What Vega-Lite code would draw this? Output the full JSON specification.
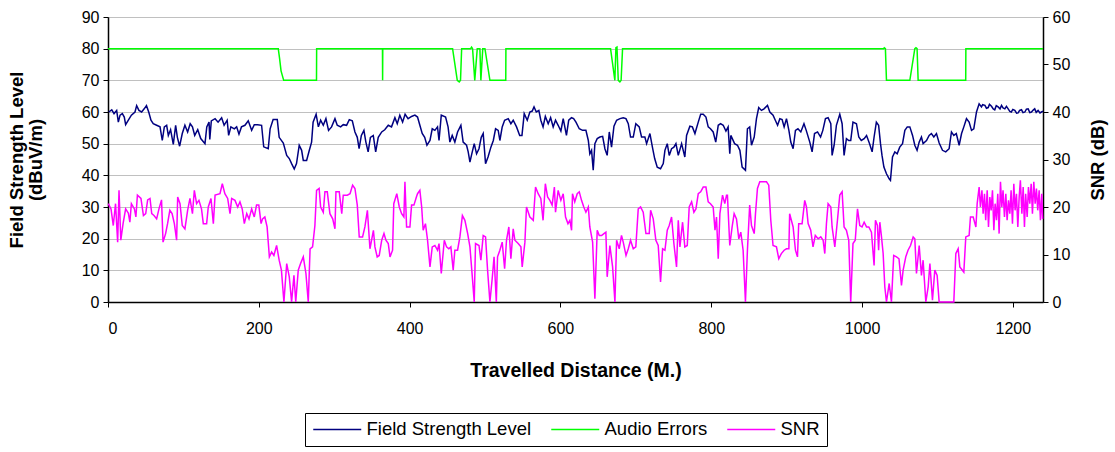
{
  "$schema": "https://vega.github.io/schema/vega-lite/v6.json",
  "width": 935,
  "height": 285,
  "autosize": {"type": "none"},
  "padding": {"left": 108, "top": 17, "right": 72, "bottom": 150},
  "background": "white",
  "config": {
    "font": "Liberation Sans",
    "view": {"stroke": null},
    "axis": {
      "labelFont": "Liberation Sans",
      "labelFontSize": 16,
      "labelColor": "black",
      "labelOverlap": false,
      "domainColor": "black",
      "domainWidth": 1.5,
      "tickColor": "black",
      "tickSize": 5,
      "titleFont": "Liberation Sans",
      "titleFontSize": 18.5,
      "titleFontWeight": "bold",
      "titleColor": "black"
    },
    "line": {"strokeWidth": 1.5}
  },
  "datasets": {
    "fsl": [
      {"d":1,"v":60},{"d":5,"v":60.7},{"d":8,"v":59.5},{"d":11.5,"v":60.5},{"d":13.7,"v":56.8},{"d":16,"v":59},{"d":19,"v":59.5},{"d":21.6,"v":58.4},{"d":23.4,"v":56},{"d":27,"v":57.4},{"d":31,"v":59},{"d":35.8,"v":60},{"d":38,"v":62},{"d":41,"v":60.5},{"d":44.6,"v":60},{"d":48,"v":61},{"d":51,"v":62},{"d":54,"v":60},{"d":57,"v":57.4},{"d":60,"v":56.3},{"d":64.5,"v":55.8},{"d":69,"v":55.3},{"d":72,"v":51},{"d":74.7,"v":55.3},{"d":77.8,"v":55.8},{"d":80,"v":52.6},{"d":83,"v":54.4},{"d":86.6,"v":49.8},{"d":89.7,"v":55.8},{"d":92,"v":52},{"d":95,"v":49.2},{"d":98.5,"v":53.2},{"d":102,"v":55.8},{"d":105.6,"v":53.7},{"d":109,"v":56.3},{"d":112,"v":55.3},{"d":115,"v":52.6},{"d":119,"v":54.4},{"d":123,"v":51.6},{"d":128.6,"v":50},{"d":131,"v":55.3},{"d":134,"v":56.8},{"d":135,"v":51.3},{"d":137,"v":57.2},{"d":142,"v":57.9},{"d":146,"v":56.8},{"d":150.7,"v":58.2},{"d":154,"v":55.8},{"d":158,"v":57.4},{"d":160,"v":52.6},{"d":163,"v":55.3},{"d":167.5,"v":54.7},{"d":170.6,"v":55.3},{"d":173.7,"v":53},{"d":177,"v":55.3},{"d":181.6,"v":55.8},{"d":186,"v":57.2},{"d":190.5,"v":54.2},{"d":194,"v":56},{"d":198.4,"v":56},{"d":203.7,"v":55.8},{"d":206.5,"v":49},{"d":212.5,"v":48.4},{"d":215,"v":54.7},{"d":219,"v":57.6},{"d":224.5,"v":57.6},{"d":227,"v":52},{"d":232.5,"v":50.2},{"d":237,"v":46.3},{"d":240.4,"v":45.3},{"d":243.5,"v":43.7},{"d":247,"v":42},{"d":250,"v":43.7},{"d":253.6,"v":49.5},{"d":256.8,"v":47.9},{"d":259,"v":44.7},{"d":263.4,"v":44.7},{"d":267,"v":47.9},{"d":270,"v":50.5},{"d":272,"v":56.8},{"d":276,"v":59.3},{"d":279,"v":55.3},{"d":282,"v":57.4},{"d":285.5,"v":55.8},{"d":289,"v":57.9},{"d":292.5,"v":54.2},{"d":296.5,"v":55.3},{"d":301,"v":57.9},{"d":304,"v":55.8},{"d":308.5,"v":55.3},{"d":312,"v":56},{"d":316.4,"v":55.8},{"d":320,"v":57.6},{"d":324,"v":57.2},{"d":327.5,"v":53.7},{"d":330.6,"v":52},{"d":333,"v":48.4},{"d":336,"v":52.6},{"d":339.4,"v":54.2},{"d":342,"v":50.5},{"d":345,"v":47.4},{"d":348,"v":52},{"d":351.8,"v":52.6},{"d":355,"v":47.4},{"d":358.4,"v":52},{"d":363,"v":53.7},{"d":367,"v":54.4},{"d":371.7,"v":55.8},{"d":376,"v":55.3},{"d":380.5,"v":58.2},{"d":383.6,"v":56.3},{"d":387,"v":59},{"d":390.7,"v":56.8},{"d":394,"v":59.3},{"d":398,"v":57.9},{"d":402.6,"v":58.6},{"d":407,"v":59},{"d":410.5,"v":58.4},{"d":413.6,"v":55.8},{"d":416.7,"v":53.2},{"d":420,"v":52},{"d":423,"v":49.5},{"d":427,"v":51},{"d":430,"v":54.7},{"d":433.5,"v":54.2},{"d":437,"v":55.3},{"d":439,"v":51},{"d":442,"v":59},{"d":447.7,"v":58.4},{"d":451,"v":55.3},{"d":453.4,"v":50.5},{"d":456.5,"v":52.6},{"d":460,"v":50.5},{"d":463.6,"v":53.7},{"d":468,"v":55.8},{"d":471,"v":50.5},{"d":475.5,"v":49.5},{"d":477.7,"v":47.4},{"d":480,"v":44.2},{"d":482,"v":46.3},{"d":485.7,"v":50},{"d":488.8,"v":46.8},{"d":492,"v":48.4},{"d":495,"v":52},{"d":497.6,"v":53.2},{"d":500.7,"v":43.7},{"d":504,"v":45.8},{"d":507.8,"v":48.9},{"d":511,"v":51},{"d":514,"v":54.7},{"d":517.5,"v":54.2},{"d":519.7,"v":51},{"d":522.8,"v":55.3},{"d":526,"v":57.4},{"d":530.8,"v":57.9},{"d":534.3,"v":56.3},{"d":537.4,"v":57.4},{"d":541.8,"v":55.3},{"d":546,"v":52.6},{"d":549,"v":52.6},{"d":552,"v":59.5},{"d":556,"v":57.4},{"d":559.5,"v":60},{"d":562.6,"v":60.3},{"d":565,"v":61.6},{"d":568,"v":60},{"d":571.4,"v":60.5},{"d":574,"v":57.4},{"d":577,"v":55.3},{"d":580,"v":58.6},{"d":583.8,"v":56.3},{"d":587,"v":58.2},{"d":590.4,"v":55.3},{"d":593.5,"v":57.4},{"d":597,"v":55.8},{"d":600.6,"v":54},{"d":603.7,"v":57.9},{"d":608,"v":52.6},{"d":611,"v":57.4},{"d":614.7,"v":58.2},{"d":617.5,"v":57.9},{"d":620.6,"v":56.8},{"d":625,"v":54.7},{"d":629.4,"v":54.2},{"d":633.8,"v":54.2},{"d":637,"v":51},{"d":639,"v":46.8},{"d":641.3,"v":47.9},{"d":643.5,"v":41.6},{"d":645.7,"v":50},{"d":648.8,"v":51.6},{"d":652.4,"v":52.1},{"d":656,"v":52.3},{"d":659,"v":48.4},{"d":662,"v":46.3},{"d":664.8,"v":53.7},{"d":667.8,"v":48.9},{"d":671,"v":55.5},{"d":674.5,"v":57.4},{"d":679,"v":57.9},{"d":683.3,"v":58.2},{"d":686.9,"v":57.9},{"d":690,"v":56.3},{"d":693,"v":52.1},{"d":696.6,"v":52.1},{"d":700,"v":56.3},{"d":704.5,"v":55.3},{"d":707.6,"v":52.1},{"d":712,"v":52.1},{"d":714.3,"v":50},{"d":718.7,"v":53.2},{"d":722,"v":48.9},{"d":725,"v":45.3},{"d":728.4,"v":42.6},{"d":732.8,"v":42.1},{"d":736.4,"v":43.7},{"d":738.6,"v":47.9},{"d":741.7,"v":50},{"d":744.3,"v":46.3},{"d":747.4,"v":48.4},{"d":750.5,"v":48.9},{"d":753.2,"v":50},{"d":756.3,"v":46.3},{"d":760.7,"v":50},{"d":765,"v":45.8},{"d":767.3,"v":52.6},{"d":771.7,"v":55.5},{"d":775,"v":55.3},{"d":778.4,"v":53.2},{"d":782.8,"v":56.8},{"d":786,"v":59.3},{"d":789.4,"v":59.3},{"d":793,"v":58.4},{"d":796,"v":55.3},{"d":799,"v":54.7},{"d":802.6,"v":53.7},{"d":806,"v":50.5},{"d":809.3,"v":55.8},{"d":812.4,"v":56.3},{"d":815.9,"v":55.8},{"d":819.5,"v":54},{"d":822.4,"v":55.3},{"d":824.6,"v":46.8},{"d":826,"v":52.6},{"d":831,"v":50},{"d":834.8,"v":49.5},{"d":838,"v":47.9},{"d":841,"v":42.6},{"d":845.4,"v":41.6},{"d":848,"v":54.7},{"d":851,"v":55.3},{"d":853.4,"v":49.5},{"d":857,"v":52.1},{"d":860,"v":57.9},{"d":863,"v":61.4},{"d":866.6,"v":60.5},{"d":870,"v":61},{"d":874.6,"v":62.1},{"d":877.7,"v":60},{"d":882,"v":59},{"d":885,"v":57.4},{"d":888,"v":55.8},{"d":891,"v":57.9},{"d":894,"v":57.6},{"d":896.7,"v":55.3},{"d":899.8,"v":57.9},{"d":903,"v":54.2},{"d":905.5,"v":50.5},{"d":908.6,"v":48.4},{"d":911.7,"v":54.2},{"d":915,"v":54.7},{"d":918.8,"v":53.7},{"d":923,"v":56.3},{"d":926,"v":54.2},{"d":930.7,"v":50.5},{"d":933.8,"v":47.4},{"d":937,"v":53.2},{"d":941,"v":53.7},{"d":945,"v":52.1},{"d":948,"v":54.2},{"d":951.5,"v":57.9},{"d":955,"v":58.2},{"d":958.6,"v":56.3},{"d":960.3,"v":46.3},{"d":963,"v":49.5},{"d":966,"v":55.8},{"d":970.5,"v":59.3},{"d":973.6,"v":56.3},{"d":976.2,"v":46.3},{"d":979.3,"v":51.6},{"d":982.4,"v":51},{"d":985,"v":51},{"d":988,"v":56.8},{"d":992.6,"v":56.3},{"d":995.7,"v":52.1},{"d":999,"v":51},{"d":1002.8,"v":51.6},{"d":1006,"v":52.6},{"d":1010,"v":50},{"d":1013.4,"v":47.4},{"d":1016,"v":52.1},{"d":1019,"v":56.8},{"d":1022,"v":55.8},{"d":1024.5,"v":50},{"d":1026.5,"v":46.3},{"d":1029,"v":42.6},{"d":1032.4,"v":40.5},{"d":1036,"v":38.9},{"d":1037.7,"v":38.4},{"d":1040.4,"v":45.8},{"d":1043.5,"v":47.4},{"d":1046.6,"v":46.8},{"d":1050,"v":48.9},{"d":1053.7,"v":50},{"d":1056.8,"v":54.2},{"d":1060,"v":55.3},{"d":1063.4,"v":55.3},{"d":1067,"v":52.6},{"d":1070,"v":49.5},{"d":1073,"v":47.9},{"d":1075.8,"v":50.5},{"d":1078.8,"v":52.1},{"d":1081,"v":50},{"d":1085.5,"v":51},{"d":1089,"v":52.6},{"d":1092,"v":53.2},{"d":1095.2,"v":52.1},{"d":1098.7,"v":53.2},{"d":1102.3,"v":50.2},{"d":1106.7,"v":47.9},{"d":1111,"v":47.4},{"d":1115.5,"v":48.4},{"d":1118.6,"v":53.7},{"d":1121.7,"v":52.6},{"d":1125,"v":53.2},{"d":1128.8,"v":49.5},{"d":1132,"v":53.2},{"d":1135,"v":55.3},{"d":1138.5,"v":57.9},{"d":1142,"v":56.8},{"d":1145.2,"v":54.2},{"d":1148.2,"v":54.7},{"d":1151.8,"v":60},{"d":1155.3,"v":62.6},{"d":1158.4,"v":61.6},{"d":1160,"v":62.3},{"d":1163,"v":62.1},{"d":1165,"v":61.2},{"d":1167.3,"v":61.4},{"d":1169,"v":62.4},{"d":1171.7,"v":61.8},{"d":1174,"v":61},{"d":1176,"v":60.7},{"d":1178,"v":62},{"d":1180.5,"v":61.6},{"d":1183,"v":61},{"d":1185,"v":62.1},{"d":1187,"v":61.3},{"d":1189.4,"v":61},{"d":1191.5,"v":61.8},{"d":1193.8,"v":61},{"d":1196,"v":60.2},{"d":1198,"v":60},{"d":1200,"v":60.8},{"d":1202.6,"v":60.5},{"d":1205,"v":59.6},{"d":1207,"v":59.7},{"d":1209,"v":60.5},{"d":1211.5,"v":60.7},{"d":1213.5,"v":59.8},{"d":1216,"v":60},{"d":1218,"v":60.9},{"d":1220.3,"v":61},{"d":1222.5,"v":59.8},{"d":1224.7,"v":60},{"d":1227,"v":60.6},{"d":1229,"v":61},{"d":1231,"v":59.9},{"d":1233.5,"v":60.5},{"d":1236,"v":59.7},{"d":1238,"v":60},{"d":1240,"v":60.3}
    ],
    "audio": [
      {"d":0,"v":80},{"d":225.8,"v":80},{"d":227.5,"v":77},{"d":229.5,"v":73},{"d":233,"v":70},{"d":276.5,"v":70},{"d":276.7,"v":80},{"d":364,"v":80},{"d":364.2,"v":70},{"d":364.4,"v":80},{"d":457,"v":80},{"d":463.2,"v":70},{"d":465.8,"v":69.5},{"d":467.5,"v":70},{"d":469,"v":80},{"d":480.9,"v":80},{"d":482.2,"v":80.5},{"d":483.5,"v":80},{"d":486.4,"v":70},{"d":489.7,"v":80},{"d":493.2,"v":80},{"d":494.5,"v":70},{"d":497,"v":80},{"d":499.9,"v":80},{"d":506.5,"v":70},{"d":527.5,"v":70},{"d":527.7,"v":80},{"d":666.5,"v":80},{"d":672.2,"v":70},{"d":673.6,"v":80.3},{"d":675,"v":80.5},{"d":676.7,"v":70},{"d":678.9,"v":69.5},{"d":680.5,"v":70},{"d":682.4,"v":80},{"d":1028.5,"v":80},{"d":1029.5,"v":80.3},{"d":1031,"v":80},{"d":1032.4,"v":70},{"d":1063.4,"v":70},{"d":1070,"v":80},{"d":1071.5,"v":80.3},{"d":1073,"v":80},{"d":1074.4,"v":70},{"d":1137.5,"v":70},{"d":1137.7,"v":80},{"d":1240,"v":80}
    ],
    "snr": [
      {"d":0.4,"v":20.7},{"d":4,"v":19.6},{"d":7,"v":16.1},{"d":10,"v":20.7},{"d":12.8,"v":12.6},{"d":14.6,"v":23.5},{"d":17,"v":13},{"d":20,"v":16.5},{"d":23.4,"v":19.6},{"d":27,"v":18.7},{"d":29,"v":16.8},{"d":31,"v":20.7},{"d":35,"v":19.6},{"d":37,"v":17.9},{"d":39,"v":22.5},{"d":43.7,"v":21.8},{"d":47,"v":18.2},{"d":50,"v":18.6},{"d":52.6,"v":21.5},{"d":55.7,"v":21.8},{"d":58,"v":18.6},{"d":61,"v":18.2},{"d":64.5,"v":17.5},{"d":67.6,"v":19.6},{"d":71,"v":21.5},{"d":73,"v":12.6},{"d":76.4,"v":14.4},{"d":79,"v":16.5},{"d":82,"v":19.3},{"d":85,"v":18.6},{"d":88,"v":16.5},{"d":91,"v":13},{"d":92.4,"v":22.1},{"d":95.5,"v":20.7},{"d":98.5,"v":16.1},{"d":102,"v":15.4},{"d":105.6,"v":19.3},{"d":108.7,"v":21.8},{"d":112,"v":18.6},{"d":114.5,"v":23.5},{"d":117.5,"v":20.7},{"d":120.6,"v":21.4},{"d":124,"v":19.6},{"d":126.4,"v":16.5},{"d":130.8,"v":16.5},{"d":133,"v":20},{"d":136.6,"v":21.8},{"d":139.7,"v":16.5},{"d":142,"v":22.5},{"d":148.5,"v":22.8},{"d":151.6,"v":24.9},{"d":155,"v":22.8},{"d":158.7,"v":21.8},{"d":161.8,"v":18.6},{"d":164,"v":21.8},{"d":168.4,"v":21.4},{"d":172,"v":20},{"d":175,"v":21.1},{"d":178,"v":19.6},{"d":180.8,"v":16.5},{"d":184,"v":18.6},{"d":187,"v":17.5},{"d":190.5,"v":19.6},{"d":194,"v":17.9},{"d":197,"v":20.4},{"d":200,"v":20.4},{"d":203,"v":16.5},{"d":205,"v":17.5},{"d":208,"v":17.9},{"d":211,"v":15.8},{"d":214,"v":9.5},{"d":217,"v":10.5},{"d":220,"v":9.8},{"d":223.6,"v":11.9},{"d":227,"v":8.8},{"d":230,"v":6.7},{"d":233.3,"v":0},{"d":237,"v":8.1},{"d":240.4,"v":5.3},{"d":243.5,"v":0},{"d":246.6,"v":5.6},{"d":249,"v":0},{"d":252.3,"v":6.7},{"d":255.4,"v":8.1},{"d":259,"v":9.5},{"d":262.5,"v":6},{"d":265.6,"v":0},{"d":268,"v":11.2},{"d":271.3,"v":11.6},{"d":274.4,"v":16.1},{"d":276.6,"v":23.5},{"d":280,"v":23.9},{"d":282,"v":20},{"d":285.5,"v":18.9},{"d":287.7,"v":23.2},{"d":290.8,"v":23.2},{"d":294.3,"v":18.6},{"d":298,"v":17.5},{"d":301,"v":15.4},{"d":302.3,"v":23.2},{"d":306.7,"v":23.2},{"d":310,"v":18.6},{"d":312,"v":22.5},{"d":317.3,"v":22.5},{"d":321,"v":22.8},{"d":324.4,"v":24.6},{"d":327.5,"v":23.9},{"d":330.6,"v":20.4},{"d":333.2,"v":13.7},{"d":337.6,"v":13.7},{"d":340.7,"v":15.8},{"d":344,"v":19.3},{"d":347.4,"v":11.2},{"d":352,"v":15.1},{"d":354,"v":11.6},{"d":357,"v":9.5},{"d":359.7,"v":9.8},{"d":363,"v":13},{"d":366,"v":14.4},{"d":368.6,"v":13},{"d":371.7,"v":12.3},{"d":374,"v":9.5},{"d":377.4,"v":10.9},{"d":379,"v":20.7},{"d":383,"v":22.8},{"d":386.3,"v":20},{"d":389.4,"v":18.6},{"d":392.4,"v":17.9},{"d":393.8,"v":25.3},{"d":396,"v":15.8},{"d":400.4,"v":15.8},{"d":402.6,"v":20.4},{"d":405.7,"v":20.4},{"d":409,"v":22.1},{"d":410.5,"v":22.8},{"d":413.6,"v":23.5},{"d":416,"v":20},{"d":418,"v":15.1},{"d":421,"v":16.5},{"d":423.8,"v":13},{"d":427,"v":7.4},{"d":430,"v":11.6},{"d":433.5,"v":11.9},{"d":437,"v":10.9},{"d":439,"v":12.3},{"d":442,"v":6},{"d":446,"v":13},{"d":449,"v":11.6},{"d":452,"v":11.2},{"d":454.7,"v":11.6},{"d":457.8,"v":6.7},{"d":460,"v":10.9},{"d":463.6,"v":10.9},{"d":466.7,"v":13.7},{"d":470,"v":18.2},{"d":473.3,"v":17.2},{"d":477,"v":14.4},{"d":480,"v":11.6},{"d":483,"v":5.6},{"d":485.7,"v":0},{"d":487.4,"v":12.3},{"d":492,"v":11.9},{"d":494.5,"v":8.8},{"d":497.6,"v":14},{"d":500.7,"v":13.7},{"d":503.4,"v":6.7},{"d":506.5,"v":0},{"d":509.5,"v":4.9},{"d":512,"v":9.5},{"d":515,"v":0},{"d":516.6,"v":9.5},{"d":519.7,"v":10.9},{"d":522.8,"v":12.6},{"d":526,"v":7},{"d":528.5,"v":13},{"d":531.6,"v":15.8},{"d":534.3,"v":9.1},{"d":537.4,"v":15.4},{"d":539.6,"v":13},{"d":544,"v":12.3},{"d":547.6,"v":11.6},{"d":549.3,"v":7.4},{"d":552.9,"v":12.6},{"d":555,"v":20},{"d":559.5,"v":17.9},{"d":564,"v":17.2},{"d":567,"v":24.2},{"d":570.5,"v":22.8},{"d":574,"v":21.8},{"d":577,"v":17.2},{"d":580,"v":24.9},{"d":583,"v":22.1},{"d":586,"v":21.4},{"d":589,"v":20.4},{"d":592,"v":24.2},{"d":593.5,"v":18.9},{"d":597,"v":23.5},{"d":600.6,"v":21.4},{"d":603.7,"v":22.8},{"d":606.8,"v":17.9},{"d":610,"v":16.5},{"d":612.6,"v":17.2},{"d":614.8,"v":15.1},{"d":616,"v":22.8},{"d":619,"v":21.1},{"d":622.3,"v":22.8},{"d":625,"v":23.2},{"d":628,"v":21.4},{"d":631,"v":20},{"d":633.8,"v":18.9},{"d":637,"v":20},{"d":639,"v":15.8},{"d":642.7,"v":12.6},{"d":645.7,"v":0.7},{"d":648.8,"v":15.1},{"d":651.5,"v":14},{"d":654.6,"v":14},{"d":657.7,"v":14.4},{"d":660.3,"v":14.7},{"d":662,"v":5.3},{"d":665.6,"v":11.9},{"d":669.2,"v":7.4},{"d":672.3,"v":0},{"d":674.5,"v":13},{"d":678,"v":11.2},{"d":681,"v":14},{"d":683.3,"v":12.6},{"d":687,"v":9.8},{"d":690,"v":11.2},{"d":693,"v":13},{"d":696.6,"v":11.2},{"d":700,"v":11.6},{"d":703.2,"v":19.6},{"d":706.3,"v":20},{"d":709.8,"v":18.9},{"d":713.4,"v":14.4},{"d":717.8,"v":14.4},{"d":719.6,"v":19.3},{"d":723.1,"v":17.5},{"d":726.6,"v":13},{"d":729.7,"v":11.9},{"d":732.8,"v":4.2},{"d":735.5,"v":11.2},{"d":738.6,"v":10.9},{"d":741.7,"v":15.1},{"d":744.3,"v":16.1},{"d":747.4,"v":17.9},{"d":750.5,"v":12.3},{"d":754,"v":7.4},{"d":756.3,"v":17.2},{"d":758.5,"v":11.6},{"d":762,"v":16.8},{"d":765,"v":11.6},{"d":768.2,"v":11.9},{"d":770.8,"v":20},{"d":774,"v":21.1},{"d":777,"v":18.9},{"d":779.7,"v":19.6},{"d":782.8,"v":22.8},{"d":786,"v":23.2},{"d":789.4,"v":24.2},{"d":793,"v":24.2},{"d":796,"v":21.1},{"d":799,"v":20.7},{"d":802.6,"v":20},{"d":805,"v":15.1},{"d":807,"v":17.9},{"d":809.3,"v":9.1},{"d":811.5,"v":18.6},{"d":815,"v":22.5},{"d":818,"v":20.7},{"d":820.3,"v":22.5},{"d":821.5,"v":22.5},{"d":824.6,"v":11.9},{"d":827.7,"v":15.8},{"d":830.4,"v":18.6},{"d":833.5,"v":17.5},{"d":836.6,"v":13.3},{"d":839.2,"v":14.7},{"d":842.3,"v":10.9},{"d":845.4,"v":0},{"d":848,"v":10.9},{"d":851,"v":20.4},{"d":853.4,"v":16.1},{"d":857,"v":14.4},{"d":858.7,"v":18.6},{"d":861.3,"v":23.9},{"d":864.4,"v":25.3},{"d":868.8,"v":25.3},{"d":873.3,"v":25.3},{"d":876.3,"v":24.6},{"d":879,"v":17.2},{"d":882,"v":11.9},{"d":886.5,"v":11.6},{"d":889.6,"v":9.1},{"d":893,"v":10.2},{"d":896.7,"v":10.9},{"d":899.8,"v":11.2},{"d":903,"v":11.2},{"d":904,"v":18.6},{"d":908.6,"v":15.8},{"d":911.7,"v":10.9},{"d":914.4,"v":9.5},{"d":916,"v":16.5},{"d":920.5,"v":16.5},{"d":924,"v":21.4},{"d":926.3,"v":20},{"d":928.5,"v":16.5},{"d":932,"v":15.1},{"d":935,"v":11.6},{"d":938,"v":14},{"d":941.8,"v":13.3},{"d":945.3,"v":13.7},{"d":948.4,"v":13},{"d":950.6,"v":10.2},{"d":952.8,"v":16.5},{"d":955,"v":20.7},{"d":958.6,"v":20},{"d":960.3,"v":15.8},{"d":963.9,"v":11.6},{"d":967.4,"v":17.2},{"d":970.5,"v":22.5},{"d":973.6,"v":23.2},{"d":976.2,"v":15.8},{"d":979.3,"v":15.1},{"d":982.4,"v":13},{"d":985,"v":0},{"d":988,"v":12.3},{"d":991,"v":13},{"d":994,"v":19.6},{"d":997,"v":16.1},{"d":1000,"v":15.8},{"d":1002.8,"v":16.8},{"d":1006,"v":15.8},{"d":1009,"v":15.8},{"d":1012.5,"v":14.7},{"d":1016,"v":7.7},{"d":1017.8,"v":17.2},{"d":1020.4,"v":16.1},{"d":1022,"v":10.9},{"d":1023.6,"v":16.8},{"d":1025.8,"v":13.7},{"d":1028,"v":10.2},{"d":1030.2,"v":3.2},{"d":1032.4,"v":0},{"d":1036,"v":3.9},{"d":1039,"v":0},{"d":1042,"v":9.8},{"d":1045.7,"v":9.5},{"d":1049,"v":9.1},{"d":1052.3,"v":3.5},{"d":1054.5,"v":6.7},{"d":1058,"v":9.5},{"d":1061,"v":10.9},{"d":1064.3,"v":11.9},{"d":1067.8,"v":13.7},{"d":1070,"v":13.3},{"d":1072.2,"v":6},{"d":1075.8,"v":11.9},{"d":1078.8,"v":5.6},{"d":1081,"v":8.8},{"d":1084.6,"v":0},{"d":1087.7,"v":3.2},{"d":1090,"v":8.1},{"d":1093.4,"v":0.4},{"d":1096.5,"v":6.7},{"d":1099.6,"v":5.6},{"d":1102.3,"v":0},{"d":1112,"v":0},{"d":1121.7,"v":0},{"d":1124.4,"v":10.2},{"d":1127.5,"v":11.2},{"d":1129.7,"v":7.4},{"d":1135,"v":6.3},{"d":1137.6,"v":13.7},{"d":1142,"v":14},{"d":1143.8,"v":17.9},{"d":1147.4,"v":17.9},{"d":1151,"v":15.8},{"d":1152.7,"v":20.7},{"d":1155.3,"v":24.2},{"d":1157,"v":20},{"d":1159,"v":23.5},{"d":1160.6,"v":18.6},{"d":1162.4,"v":22.8},{"d":1164,"v":17.2},{"d":1166,"v":23.5},{"d":1167.7,"v":15.8},{"d":1169.5,"v":22.1},{"d":1171.2,"v":19.3},{"d":1173,"v":23.5},{"d":1174.8,"v":15.1},{"d":1176.5,"v":20.7},{"d":1178.3,"v":17.2},{"d":1180,"v":22.8},{"d":1181.8,"v":14.4},{"d":1183.6,"v":25.3},{"d":1185.4,"v":20},{"d":1187,"v":23.5},{"d":1188.9,"v":17.9},{"d":1190.7,"v":22.8},{"d":1192.4,"v":17.2},{"d":1194.2,"v":21.4},{"d":1196,"v":18.6},{"d":1197.7,"v":23.5},{"d":1199.5,"v":16.5},{"d":1201.3,"v":24.9},{"d":1203,"v":19.3},{"d":1204.8,"v":22.8},{"d":1206.6,"v":15.8},{"d":1208.4,"v":22.1},{"d":1210,"v":25.6},{"d":1212,"v":18.6},{"d":1213.7,"v":24.2},{"d":1215.4,"v":15.8},{"d":1217,"v":22.8},{"d":1219,"v":17.9},{"d":1220.7,"v":24.2},{"d":1222.5,"v":20.7},{"d":1224.3,"v":24.9},{"d":1226,"v":18.6},{"d":1227.8,"v":25.3},{"d":1229.6,"v":20.7},{"d":1231.3,"v":23.9},{"d":1233,"v":19.3},{"d":1234.9,"v":23.5},{"d":1236.6,"v":17.2},{"d":1238.4,"v":22.8},{"d":1239.5,"v":17.5}
    ]
  },
  "layer": [
    {
      "encoding": {
        "x": {"field": "d", "type": "quantitative", "scale": {"domain": [0, 1240], "nice": false},
          "axis": {"values": [0, 200, 400, 600, 800, 1000, 1200], "format": "d", "grid": false, "title": "Travelled Distance (M.)", "titleFontSize": 19.5, "labelPadding": 13, "titleBaseline": "middle", "titleY": 68}},
        "y": {"field": "v", "type": "quantitative", "scale": {"domain": [0, 90], "nice": false},
          "axis": {"values": [0, 10, 20, 30, 40, 50, 60, 70, 80, 90], "grid": true, "gridColor": "#808080", "gridDash": [1, 1], "gridWidth": 1, "labelPadding": 4,
            "title": ["Field Strength Level", "(dBuV/m)"], "titleLineHeight": 19, "titleX": -82, "titleBaseline": "bottom"}}
      },
      "layer": [
        {
          "data": {"name": "fsl"},
          "mark": {"type": "line", "interpolate": "linear", "strokeWidth": 1.5},
          "encoding": {
            "color": {"datum": "Field Strength Level", "type": "nominal",
              "scale": {"domain": ["Field Strength Level", "Audio Errors", "SNR"], "range": ["#000080", "#00FF00", "#FF00FF"]},
              "legend": {"orient": "none", "legendX": 197, "legendY": 396, "direction": "horizontal", "title": null,
                "symbolType": "M-3,0H3", "symbolSize": 256, "symbolStrokeWidth": 1.5, "symbolOffset": 16,
                "labelFontSize": 18.5, "labelFont": "Liberation Sans", "labelColor": "black", "labelLimit": 400,
                "strokeColor": "black", "padding": 7, "columnPadding": 16, "labelOffset": 20}}
          }
        },
        {
          "data": {"name": "audio"},
          "mark": {"type": "line", "interpolate": "linear", "strokeWidth": 1.5},
          "encoding": {
            "color": {"datum": "Audio Errors", "type": "nominal"}
          }
        }
      ]
    },
    {
      "data": {"name": "snr"},
      "mark": {"type": "line", "interpolate": "linear", "strokeWidth": 1.5},
      "encoding": {
        "x": {"field": "d", "type": "quantitative", "scale": {"domain": [0, 1240], "nice": false},
          "axis": {"values": [0, 200, 400, 600, 800, 1000, 1200], "format": "d", "grid": false, "title": "Travelled Distance (M.)", "titleFontSize": 19.5, "labelPadding": 13, "titleBaseline": "middle", "titleY": 68}},
        "y": {"field": "v", "type": "quantitative", "scale": {"domain": [0, 60], "nice": false},
          "axis": {"orient": "right", "values": [0, 10, 20, 30, 40, 50, 60], "grid": false, "labelPadding": 4, "title": "SNR (dB)", "titleAngle": 270, "titleBaseline": "top", "titleX": 45}},
        "color": {"datum": "SNR", "type": "nominal"}
      }
    }
  ],
  "resolve": {"scale": {"y": "independent"}}
}
